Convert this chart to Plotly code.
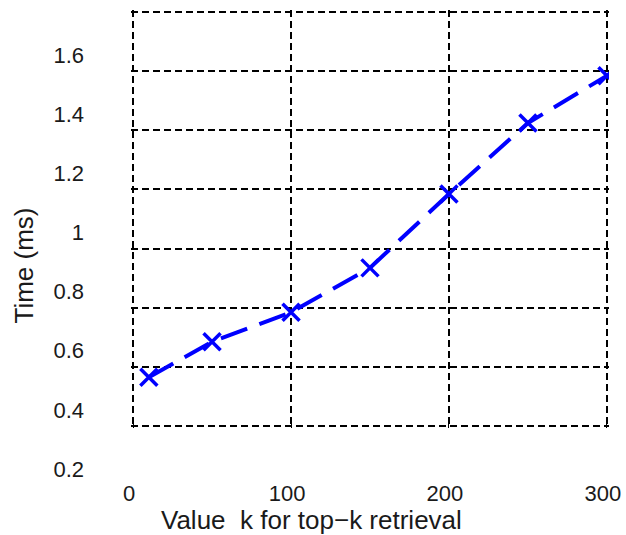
import plotly.graph_objects as go

# Data
k_values = [10, 50, 100, 150, 200, 250, 300]
time_ms = [0.51, 0.63, 0.73, 0.88, 1.13, 1.37, 1.53]

y_tick_labels = ["0.2", "0.4", "0.6", "0.8", "1", "1.2", "1.4", "1.6"]
x_tick_vals = [0, 100, 200, 300]
x_tick_labels = ["0", "100", "200", "300"]

# label values and the (shifted) gridline positions in the reference
label_vals = [float(t) for t in y_tick_labels]
grid_offset = 0.1453
y_grid_vals = [v + grid_offset for v in label_vals]

FONT = "Liberation Sans, Arial, sans-serif"
TXT = "#1a1a1a"

fig = go.Figure()
fig.add_trace(go.Scatter(
    x=k_values, y=time_ms,
    mode="lines+markers",
    line=dict(color="#0000ff", width=4, dash="28px,13px"),
    marker=dict(symbol="x-thin-open", size=17, color="#0000ff",
                line=dict(color="#0000ff", width=3.5)),
    showlegend=False,
))

fig.update_layout(
    width=626, height=535,
    margin=dict(l=131, r=17, t=10, b=107),
    paper_bgcolor="white", plot_bgcolor="white",
    font=dict(family=FONT, size=22, color=TXT),
    xaxis=dict(
        range=[-1.3, 301.3],
        tickvals=x_tick_vals, ticktext=x_tick_labels,
        showgrid=True, gridcolor="black", gridwidth=1.5, griddash="7px,4px",
        zeroline=False, showline=False, automargin=False,
        ticks="inside", ticklen=5, tickcolor="black", tickwidth=1.3,
        ticklabelstandoff=50, ticklabelshift=-4,
        tickfont=dict(family=FONT, size=22, color=TXT),
    ),
    yaxis=dict(
        range=[y_grid_vals[0] - 0.0068, y_grid_vals[-1] + 0.0068],
        tickvals=y_grid_vals, ticktext=y_tick_labels,
        showgrid=True, gridcolor="black", gridwidth=1.5, griddash="7px,4px",
        zeroline=False, showline=False, automargin=False,
        ticks="inside", ticklen=5, tickcolor="black", tickwidth=1.3,
        ticklabelshift=43, ticklabelstandoff=46,
        tickfont=dict(family=FONT, size=22, color=TXT),
    ),
    annotations=[
        dict(text="Value  k for top\u2212k retrieval", xref="paper", yref="paper",
             x=0.378, y=-0.220, xanchor="center", yanchor="middle",
             showarrow=False, font=dict(family=FONT, size=26, color=TXT)),
        dict(text="Time (ms)", xref="paper", yref="paper",
             x=-0.2236, y=0.389, xanchor="center", yanchor="middle", textangle=-90,
             showarrow=False, font=dict(family=FONT, size=26, color=TXT)),
    ],
)

fig.write_html(
    "out.html",
    config={"displayModeBar": False},
    post_script=(
        "document.body.style.margin='0';"
        "document.documentElement.style.overflow='hidden';"
        "document.body.style.overflow='hidden';"
    ),
)
